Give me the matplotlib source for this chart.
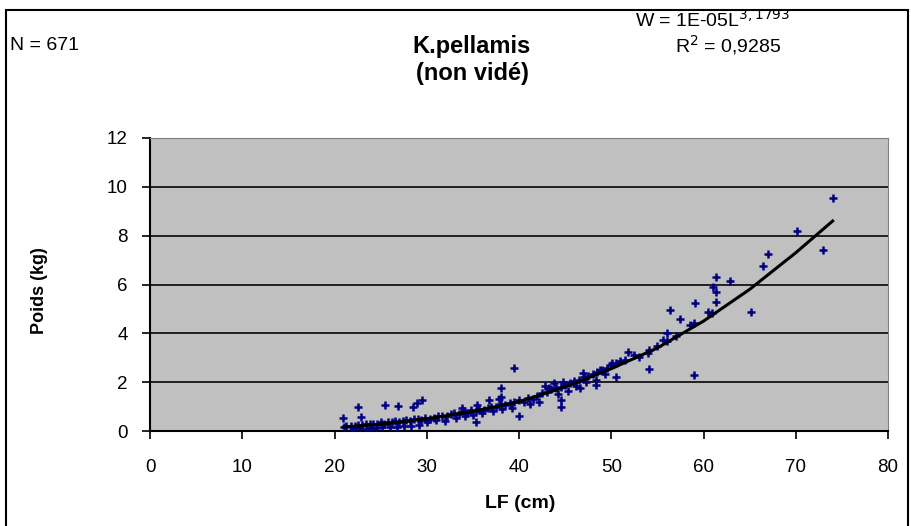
import matplotlib.pyplot as plt
from matplotlib.patches import Rectangle

# LF (cm) et poids (kg)
lf = [
    21.0, 21.3, 21.8, 22.2, 22.6, 23.0, 23.4, 23.8, 24.2, 24.6, 25.0, 25.4,
    25.8, 26.2, 26.6, 27.0, 27.4, 27.8, 28.2, 28.6, 29.0, 29.4, 29.8,
    22.0, 22.8, 23.5, 24.0, 24.5, 25.2, 26.0, 26.8, 27.5, 28.3, 29.2, 30.0,
    30.3, 30.8, 31.2, 31.7, 32.2, 32.6, 33.0, 33.5, 34.0, 34.4, 34.8, 35.3,
    35.7, 36.2, 36.6, 37.0, 37.5, 38.0, 38.5, 39.0, 39.5,
    31.0, 32.0, 33.2, 34.2, 35.0, 36.0, 37.2, 38.2, 39.2, 33.8, 35.5, 36.8, 37.8,
    40.0, 40.5, 41.0, 41.5, 42.0, 42.5, 43.0, 43.5, 44.0, 44.5, 45.0, 45.5,
    46.0, 46.5, 47.0, 47.5, 48.0, 48.5, 49.0, 49.5,
    41.2, 42.2, 43.2, 44.2, 45.3, 46.2, 47.3, 48.3, 49.3, 50.0, 43.8, 42.8,
    44.8, 50.5, 51.0, 52.5, 53.0, 54.0, 55.0, 56.0, 57.0,
    20.9, 22.6, 22.9, 25.5, 26.9, 28.5, 29.5, 28.9, 35.3,
    38.1, 38.1, 39.5, 40.0, 44.6, 44.6, 46.9, 48.8, 50.1, 50.5, 48.4, 46.6,
    51.8, 51.5, 54.1, 54.1, 56.0, 55.6, 56.4, 57.4, 58.5, 59.0, 59.1, 59.0,
    60.5, 60.9, 61.0, 61.4, 61.4, 61.4, 62.9, 65.1, 66.4, 67.0, 70.1, 72.9, 74.0,
]
poids = [
    0.18, 0.20, 0.22, 0.20, 0.25, 0.24, 0.28, 0.30, 0.27, 0.30, 0.35, 0.30,
    0.38, 0.36, 0.40, 0.38, 0.42, 0.45, 0.40, 0.48, 0.50, 0.45, 0.55,
    0.10, 0.12, 0.10, 0.14, 0.12, 0.15, 0.18, 0.16, 0.20, 0.22, 0.25, 0.35,
    0.50, 0.55, 0.60, 0.62, 0.60, 0.70, 0.72, 0.68, 0.80, 0.75, 0.85, 0.80,
    0.90, 0.88, 0.95, 1.00, 0.98, 1.10, 1.05, 1.15, 1.20,
    0.45, 0.40, 0.55, 0.60, 0.65, 0.75, 0.80, 0.90, 0.95, 0.95, 1.05, 1.25, 1.30,
    1.25, 1.20, 1.35, 1.30, 1.45, 1.55, 1.60, 1.70, 1.75, 1.80, 1.90, 1.95,
    2.05, 2.10, 2.20, 2.25, 2.35, 2.40, 2.50, 2.60,
    1.10, 1.20, 1.75, 1.50, 1.65, 1.85, 2.00, 2.10, 2.35, 2.70, 1.95, 1.85,
    2.00, 2.80, 2.85, 3.10, 3.05, 3.20, 3.50, 3.70, 3.90,
    0.53, 0.98, 0.57, 1.07, 1.02, 0.98, 1.27, 1.15, 0.37,
    1.76, 1.39, 2.58, 0.61, 1.27, 0.98, 2.38, 2.50, 2.79, 2.21, 1.89, 1.76,
    3.24, 2.91, 3.32, 2.54, 4.02, 3.73, 4.96, 4.59, 4.34, 4.43, 5.25, 2.30,
    4.88, 4.84, 5.90, 6.31, 5.70, 5.29, 6.15, 4.88, 6.76, 7.25, 8.20, 7.42, 9.55,
]

# courbe de tendance
lf_fit = [21, 25, 30, 35, 40, 45, 50, 55, 60, 65, 70, 74]
poids_fit = [0.16, 0.28, 0.50, 0.80, 1.20, 1.80, 2.55, 3.40, 4.50, 5.80, 7.30, 8.60]

x_ticks = [0, 10, 20, 30, 40, 50, 60, 70, 80]
y_ticks = [0, 2, 4, 6, 8, 10, 12]

plt.rcParams['font.family'] = ['Liberation Sans', 'DejaVu Sans']

fig = plt.figure(figsize=(9.12, 5.26), dpi=100)
ax = fig.add_axes([150 / 912, 1 - 431 / 526, 738 / 912, 293 / 526])
ax.set_facecolor('#C0C0C0')

ax.scatter(lf, poids, marker='+', s=30, color='#000080', linewidths=1.8, zorder=3)
ax.plot(lf_fit, poids_fit, color='black', lw=2.2, zorder=4)

ax.set_xlim(0, 80)
ax.set_ylim(0, 12)
ax.set_xticks(x_ticks)
ax.set_yticks(y_ticks)
ax.tick_params(labelsize=13.5, length=6, width=1.2)
ax.tick_params(axis='x', pad=14)
ax.tick_params(axis='y', pad=10)
ax.yaxis.grid(True, color='#202020', lw=1.4)
ax.set_axisbelow(True)
for s in ['left', 'bottom']:
    ax.spines[s].set_linewidth(1.5)
for s in ['top', 'right']:
    ax.spines[s].set_color('#808080')

ax.set_xlabel('LF (cm)', fontsize=14, fontweight='bold')
ax.set_ylabel('Poids (kg)', fontsize=13, fontweight='bold')
ax.xaxis.set_label_coords(0.501, -0.218)
ax.yaxis.set_label_coords(-0.138, 0.48)

fig.text(10 / 912, 1 - 45 / 526, 'N = 671', fontsize=14, va='center')
fig.text(472 / 912, 1 - 60 / 526, 'K.pellamis\n(non vidé)', fontsize=17,
         fontweight='bold', ha='center', va='center', linespacing=1.25)
fig.text(712 / 912, 1 - 20 / 526, r'W = 1E-05L$^{3,1793}$', fontsize=14,
         ha='center', va='center')
fig.text(728 / 912, 1 - 45 / 526, r'R$^{2}$ = 0,9285', fontsize=14,
         ha='center', va='center')

fig.patches.append(Rectangle((6 / 912, -0.01), 902 / 912, 1.01 - 10 / 526,
                             transform=fig.transFigure, fill=False,
                             edgecolor='black', lw=1.5))

fig.savefig('out.png', dpi=100)
